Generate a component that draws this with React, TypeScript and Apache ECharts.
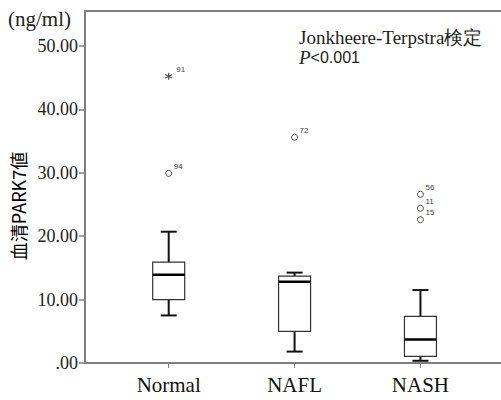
import React, { useEffect, useRef } from "react";
import * as echarts from "echarts";

const categories = ["Normal", "NAFL", "NASH"];
const whiskerLow = [7.5, 1.8, 0.35];
const q1 = [10.0, 5.0, 1.05];
const median = [13.9, 12.8, 3.7];
const q3 = [15.9, 13.7, 7.35];
const whiskerHigh = [20.7, 14.25, 11.5];

const outlierGroup = [0, 1, 2, 2, 2];
const outlierValue = [29.9, 35.6, 26.6, 24.4, 22.6];
const outlierId = ["94", "72", "56", "11", "15"];

const extremeGroup = [0];
const extremeValue = [45.2];
const extremeId = ["91"];

const yTicks = [0, 10, 20, 30, 40, 50];

const SERIF = "Liberation Serif";
const SANS = "Liberation Sans";

export default function App() {
  const ref = useRef<HTMLDivElement>(null);
  useEffect(() => {
    if (!ref.current) return;
    const chart = echarts.init(ref.current, undefined, { renderer: "svg" });
    const boxData = categories.map((_, i) => [
      i + 1,
      whiskerLow[i],
      q1[i],
      median[i],
      q3[i],
      whiskerHigh[i],
    ]);
    const outData = outlierValue.map((v, i) => ({
      name: outlierId[i],
      value: [outlierGroup[i] + 1, v],
    }));
    const extData = extremeValue.map((v, i) => ({
      name: extremeId[i],
      value: [extremeGroup[i] + 1, v],
    }));
    const axisColor = "#7f7f7f";
    const ptLabel = {
      show: true,
      formatter: (p: any) => p.name,
      position: "right",
      distance: 0,
      offset: [1.5, -7],
      fontFamily: SANS,
      fontSize: 8,
      color: "#000",
    };
    chart.setOption({
      animation: false,
      backgroundColor: "#fff",
      grid: {
        left: 85,
        right: 0,
        top: 11,
        bottom: 37,
        containLabel: false,
        outerBoundsMode: "none",
      },
      xAxis: [
        {
          type: "value",
          min: 0.335,
          max: 3.64,
          splitLine: { show: false },
          axisLine: { show: true, lineStyle: { color: axisColor, width: 2 } },
          axisTick: {
            show: true,
            customValues: [1, 2, 3],
            length: 5,
            lineStyle: { color: axisColor, width: 1 },
          },
          axisLabel: {
            customValues: [1, 2, 3],
            formatter: (v: number) => categories[Math.round(v) - 1] ?? "",
            fontFamily: SERIF,
            fontSize: 21,
            color: "#111",
            margin: 11,
          },
        },
        {
          type: "value",
          position: "top",
          min: 0,
          max: 1,
          splitLine: { show: false },
          axisLine: { show: true, lineStyle: { color: axisColor, width: 2 } },
          axisTick: { show: false },
          axisLabel: { show: false },
        },
      ],
      yAxis: {
        type: "value",
        min: 0,
        max: 55.5,
        interval: 10,
        splitLine: { show: false },
        axisLine: { show: true, lineStyle: { color: axisColor, width: 2 } },
        axisTick: {
          show: true,
          customValues: yTicks,
          length: 6,
          lineStyle: { color: axisColor, width: 1.5 },
        },
        axisLabel: {
          customValues: yTicks,
          formatter: (v: number) => (v === 0 ? ".00" : v.toFixed(2)),
          fontFamily: SERIF,
          fontSize: 18,
          color: "#222",
          margin: 7,
        },
      },
      series: [
        {
          type: "custom",
          xAxisIndex: 0,
          data: boxData,
          renderItem: (params: any, api: any) => {
            const x = api.value(0);
            const lo = api.coord([x, api.value(1)]);
            const b1 = api.coord([x, api.value(2)]);
            const md = api.coord([x, api.value(3)]);
            const b3 = api.coord([x, api.value(4)]);
            const hi = api.coord([x, api.value(5)]);
            const cx = lo[0];
            const hw = 16;
            const cw = 8;
            const wl = { stroke: "#111", lineWidth: 2 };
            return {
              type: "group",
              children: [
                { type: "line", shape: { x1: cx, y1: hi[1], x2: cx, y2: b3[1] }, style: wl },
                { type: "line", shape: { x1: cx, y1: b1[1], x2: cx, y2: lo[1] }, style: wl },
                { type: "line", shape: { x1: cx - cw, y1: hi[1], x2: cx + cw, y2: hi[1] }, style: wl },
                { type: "line", shape: { x1: cx - cw, y1: lo[1], x2: cx + cw, y2: lo[1] }, style: wl },
                {
                  type: "rect",
                  shape: { x: cx - hw, y: b3[1], width: hw * 2, height: b1[1] - b3[1] },
                  style: { fill: "#fff", stroke: "#333", lineWidth: 1.2 },
                },
                {
                  type: "line",
                  shape: { x1: cx - hw, y1: md[1], x2: cx + hw, y2: md[1] },
                  style: { stroke: "#000", lineWidth: 2.5 },
                },
              ],
            };
          },
          z: 2,
        },
        {
          type: "scatter",
          xAxisIndex: 0,
          data: outData,
          symbol: "circle",
          symbolSize: 6,
          itemStyle: { color: "#fff", borderColor: "#222", borderWidth: 1 },
          label: ptLabel,
          z: 3,
        },
        {
          type: "scatter",
          xAxisIndex: 0,
          data: extData,
          symbol: "path://M0,-5L0,5M-4.5,-2.5L4.5,2.5M-4.5,2.5L4.5,-2.5",
          symbolSize: 7,
          itemStyle: { color: "none", borderColor: "#222", borderWidth: 1.2 },
          label: ptLabel,
          z: 3,
        },
      ],
      graphic: [
        {
          type: "text",
          left: 8,
          top: 8,
          style: { text: "(ng/ml)", fontFamily: SERIF, fontSize: 21, fill: "#222" },
        },
        {
          type: "text",
          x: 18,
          y: 206,
          rotation: Math.PI / 2,
          style: {
            text: "血清PARK7値",
            fontFamily: "Noto Sans CJK JP",
            fontSize: 18,
            fill: "#000",
            align: "center",
            verticalAlign: "middle",
          },
        },
        {
          type: "text",
          left: 299,
          top: 28,
          style: {
            text: "Jonkheere-Terpstra検定",
            fontFamily: SERIF,
            fontSize: 19,
            fill: "#222",
          },
        },
        {
          type: "text",
          left: 299,
          top: 48,
          style: {
            text: "{i|P}{n|<0.001}",
            rich: {
              i: { fontFamily: SERIF, fontStyle: "italic", fontSize: 19, fill: "#222" },
              n: { fontFamily: SANS, fontSize: 16, fill: "#222" },
            },
          },
        },
      ],
    });
    return () => chart.dispose();
  }, []);
  return (
    <div
      ref={ref}
      style={{ position: "absolute", left: 0, top: 0, width: 501, height: 400 }}
    />
  );
}
